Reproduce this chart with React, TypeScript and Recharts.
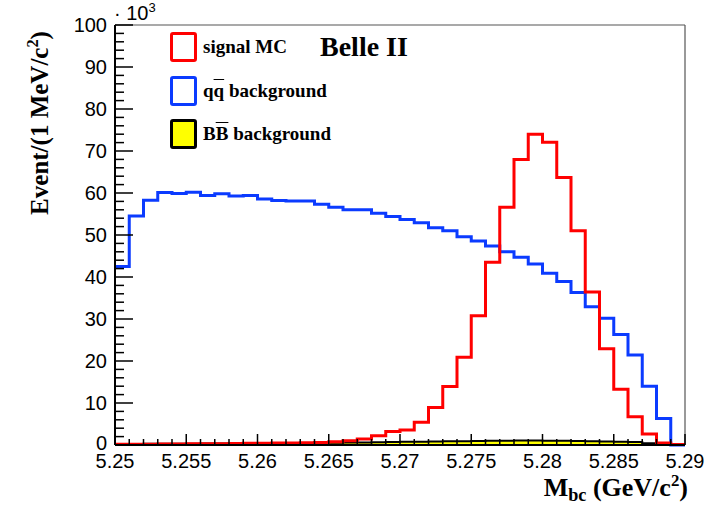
import React from "react"
import { ComposedChart, Line, Area, XAxis, YAxis, ReferenceLine } from "recharts"

// bin edges of the M_bc histogram (1 MeV bins), values are in units of 10^3 events
const binEdges = [
  5.25, 5.251, 5.252, 5.253, 5.254, 5.255, 5.256, 5.257, 5.258, 5.259,
  5.26, 5.261, 5.262, 5.263, 5.264, 5.265, 5.266, 5.267, 5.268, 5.269,
  5.27, 5.271, 5.272, 5.273, 5.274, 5.275, 5.276, 5.277, 5.278, 5.279,
  5.28, 5.281, 5.282, 5.283, 5.284, 5.285, 5.286, 5.287, 5.288, 5.289,
  5.29,
]

const signalMC = [
  0.2, 0.2, 0.2, 0.25, 0.25, 0.3, 0.3, 0.3, 0.35, 0.4,
  0.4, 0.45, 0.5, 0.55, 0.6, 0.8, 1.0, 1.4, 2.2, 3.2,
  3.6, 5.4, 8.9, 13.9, 20.9, 30.8, 43.5, 56.6, 68.0, 74.0,
  72.1, 63.7, 51.0, 36.4, 22.9, 13.3, 6.7, 2.6, 0.5, 0.1,
]

const qqBackground = [
  42.5, 54.5, 58.3, 60.1, 59.9, 60.2, 59.4, 59.8, 59.3, 59.4,
  58.6, 58.2, 58.1, 58.1, 57.3, 56.6, 56.0, 56.0, 55.2, 54.4,
  53.7, 52.9, 51.7, 51.0, 49.6, 48.6, 47.4, 46.0, 44.7, 43.1,
  40.9, 38.9, 36.3, 32.9, 30.2, 26.3, 21.4, 14.0, 6.3, 0,
]

const bbBackground = [
  0.25, 0.25, 0.3, 0.3, 0.3, 0.3, 0.35, 0.35, 0.35, 0.4,
  0.4, 0.45, 0.45, 0.5, 0.5, 0.55, 0.6, 0.6, 0.65, 0.7,
  0.75, 0.8, 0.85, 0.9, 0.9, 0.95, 1.0, 1.0, 1.05, 1.05,
  1.0, 1.0, 0.95, 0.9, 0.85, 0.8, 0.7, 0.4, 0.15, 0,
]

const xMajorTicks = [5.25, 5.255, 5.26, 5.265, 5.27, 5.275, 5.28, 5.285, 5.29]
const yMajorTicks = [0, 10, 20, 30, 40, 50, 60, 70, 80, 90, 100]

const W = 716
const H = 509
const PLOT = { left: 115, right: 685, top: 25, bottom: 445 }
const SERIF = "'Liberation Serif', 'Times New Roman', serif"
const SANS = "'Liberation Sans', Arial, sans-serif"

// last edge repeats the last bin so stepAfter closes the final bin
const rows = binEdges.map((x, i) => {
  const j = Math.min(i, signalMC.length - 1)
  return { x, signal: signalMC[j], qq: qqBackground[j], bb: bbBackground[j] }
})

const subdivide = (majors: number[], n: number) => {
  const out: number[] = []
  for (let i = 0; i < majors.length - 1; i++) {
    for (let k = 0; k < n; k++) out.push(majors[i] + ((majors[i + 1] - majors[i]) * k) / n)
  }
  out.push(majors[majors.length - 1])
  return out
}

const xTicks = subdivide(xMajorTicks, 5)
const yTicks = subdivide(yMajorTicks, 5)

const YTick = (props: any) => {
  const { y, payload } = props
  const v = payload.value
  const major = Math.abs(v / 10 - Math.round(v / 10)) < 1e-6
  return (
    <g>
      <line x1={PLOT.left} x2={PLOT.left + (major ? 18 : 9)} y1={y} y2={y} stroke="#000" strokeWidth={1.5} />
      {major && (
        <text x={107} y={v === 0 ? y - 2 : y} dy="0.36em" textAnchor="end" fontSize={20} fontFamily={SANS} fill="#000">
          {Math.round(v)}
        </text>
      )}
    </g>
  )
}

const XTick = (props: any) => {
  const { x, payload } = props
  const v = payload.value
  const major = Math.round(v * 1000) % 5 === 0
  return (
    <g>
      <line x1={x} x2={x} y1={PLOT.bottom} y2={PLOT.bottom - (major ? 11 : 6)} stroke="#000" strokeWidth={1.5} />
      {major && (
        <text x={x} y={461} dy="0.36em" textAnchor="middle" fontSize={20} fontFamily={SANS} fill="#000">
          {parseFloat(v.toFixed(3)).toString()}
        </text>
      )}
    </g>
  )
}

const LegendRow = ({ top, color, fill, children }: any) => (
  <>
    <div
      style={{
        position: "absolute",
        left: 170,
        top,
        width: 27,
        height: 30,
        boxSizing: "border-box",
        border: `3px solid ${color}`,
        borderRadius: 3,
        background: fill,
      }}
    />
    <div
      style={{
        position: "absolute",
        left: 203,
        top: top + 15,
        transform: "translateY(-50%)",
        fontFamily: SERIF,
        fontWeight: "bold",
        fontSize: 19,
        whiteSpace: "nowrap",
        color: "#000",
      }}
    >
      {children}
    </div>
  </>
)

const supStyle: React.CSSProperties = { fontSize: "0.65em", verticalAlign: "super", lineHeight: 0 }
const subStyle: React.CSSProperties = { fontSize: "0.7em", verticalAlign: "-0.3em", lineHeight: 0 }

export default function App() {
  return (
    <div style={{ position: "absolute", left: 0, top: 0, width: W, height: H, background: "#fff" }}>
      <ComposedChart width={W} height={H} data={rows} margin={{ top: 25, right: 31, bottom: 34, left: 55 }}>
        <XAxis
          dataKey="x"
          type="number"
          domain={[5.25, 5.29]}
          ticks={xTicks}
          interval={0}
          tick={(p: any) => <XTick {...p} />}
          tickLine={false}
          axisLine={{ stroke: "#000", strokeWidth: 2 }}
          height={30}
        />
        <YAxis
          type="number"
          domain={[0, 100]}
          ticks={yTicks}
          interval={0}
          tick={(p: any) => <YTick {...p} />}
          tickLine={false}
          axisLine={{ stroke: "#000", strokeWidth: 2 }}
          width={60}
        />
        <ReferenceLine y={100} stroke="#555" strokeWidth={1.2} />
        <ReferenceLine x={5.29} stroke="#555" strokeWidth={1.2} />
        <Area
          dataKey="bb"
          type="stepAfter"
          fill="#ffff00"
          fillOpacity={1}
          stroke="#000"
          strokeWidth={2}
          isAnimationActive={false}
        />
        <Line dataKey="qq" type="stepAfter" stroke="#0b3bff" strokeWidth={3} dot={false} isAnimationActive={false} />
        <Line dataKey="signal" type="stepAfter" stroke="#ff0000" strokeWidth={3} dot={false} isAnimationActive={false} />
      </ComposedChart>

      {/* exponent of the y axis */}
      <div style={{ position: "absolute", left: 114, top: 2, fontFamily: SANS, fontSize: 20, lineHeight: "22px", whiteSpace: "nowrap" }}>
        {"\u00b7 10"}
        <span style={supStyle}>3</span>
      </div>

      {/* y axis title */}
      <div
        style={{
          position: "absolute",
          left: 39,
          top: 123,
          transform: "translate(-50%, -50%) rotate(-90deg)",
          fontFamily: SERIF,
          fontWeight: "bold",
          fontSize: 25,
          lineHeight: "25px",
          whiteSpace: "nowrap",
        }}
      >
        Event/(1 MeV/c<span style={supStyle}>2</span>)
      </div>

      {/* x axis title */}
      <div
        style={{
          position: "absolute",
          right: W - 688,
          top: 475,
          fontFamily: SERIF,
          fontWeight: "bold",
          fontSize: 26,
          lineHeight: "26px",
          whiteSpace: "nowrap",
        }}
      >
        M<span style={subStyle}>bc</span> (GeV/c<span style={supStyle}>2</span>)
      </div>

      <div
        style={{
          position: "absolute",
          left: 320,
          top: 47,
          transform: "translateY(-50%)",
          fontFamily: SERIF,
          fontWeight: "bold",
          fontSize: 28,
          whiteSpace: "nowrap",
        }}
      >
        Belle II
      </div>

      <LegendRow top={32} color="#ff0000" fill="#fff">
        signal MC
      </LegendRow>
      <LegendRow top={76} color="#0b3bff" fill="#fff">
        q<span style={{ textDecoration: "overline" }}>q</span> background
      </LegendRow>
      <LegendRow top={119} color="#000" fill="#ffff00">
        B<span style={{ textDecoration: "overline" }}>B</span> background
      </LegendRow>
    </div>
  )
}
